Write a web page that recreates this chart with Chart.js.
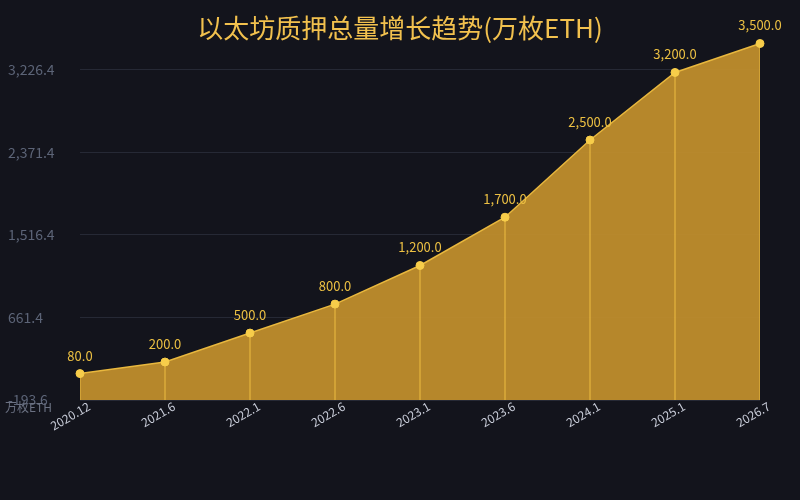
<!DOCTYPE html>
<html>
<head>
<meta charset="utf-8">
<script src="https://cdn.jsdelivr.net/npm/chart.js@4/dist/chart.umd.min.js"></script>
<style>
html,body{margin:0;padding:0;background:#13141c;}
#wrap{width:800px;height:500px;position:relative;}
</style>
</head>
<body>
<div id="wrap"><canvas id="c" width="800" height="500"></canvas></div>
<script>
const categories = ['2020.12','2021.6','2022.1','2022.6','2023.1','2023.6','2024.1','2025.1','2026.7'];
const stakedValues = [80, 200, 500, 800, 1200, 1700, 2500, 3200, 3500];
const yTickValues = [-193.6, 661.4, 1516.4, 2371.4, 3226.4];
const yMin = -193.6;
const yMax = 3500;
const titleText = '以太坊质押总量增长趋势(万枚ETH)';
const unitText = '万枚ETH';

const FONT = "'Noto Sans CJK SC', 'Noto Sans', sans-serif";
const fmt = v => v.toLocaleString('en-US', {minimumFractionDigits: 1, maximumFractionDigits: 1});

const extrasPlugin = {
  id: 'extras',
  afterDraw(chart) {
    const ctx = chart.ctx;
    ctx.save();
    ctx.fillStyle = '#f2c14e';
    ctx.font = `26px ${FONT}`;
    ctx.textAlign = 'center';
    ctx.textBaseline = 'middle';
    ctx.fillText(titleText, 400, 28);
    ctx.fillStyle = '#6b7182';
    ctx.font = `12px ${FONT}`;
    ctx.textAlign = 'left';
    ctx.fillText(unitText, 5, 407);
    const meta = chart.getDatasetMeta(0);
    ctx.fillStyle = '#ecc043';
    ctx.font = `13px ${FONT}`;
    ctx.textAlign = 'center';
    meta.data.forEach((pt, i) => {
      ctx.fillText(fmt(stakedValues[i]), pt.x, pt.y - 18);
    });
    ctx.restore();
  }
};

new Chart(document.getElementById('c'), {
  type: 'line',
  data: {
    labels: categories,
    datasets: [
      {
        type: 'line',
        data: stakedValues,
        order: 1,
        borderColor: '#e9b83e',
        borderWidth: 1.5,
        backgroundColor: 'rgba(192,142,45,0.94)',
        fill: 'start',
        tension: 0,
        pointRadius: 4,
        pointHoverRadius: 4,
        pointBackgroundColor: '#f7cd4a',
        pointBorderColor: '#f7cd4a',
        pointBorderWidth: 1,
        clip: false
      },
      {
        type: 'bar',
        data: stakedValues.map(v => [yMin, v]),
        order: 2,
        backgroundColor: 'rgba(245,196,70,0.55)',
        barThickness: 1,
        borderWidth: 0
      }
    ]
  },
  options: {
    responsive: false,
    animation: false,
    layout: { padding: { left: 8, right: 40, top: 43.5, bottom: 0 } },
    plugins: {
      legend: { display: false },
      title: { display: false },
      tooltip: { enabled: false },
      filler: { drawTime: 'beforeDatasetsDraw' }
    },
    scales: {
      x: {
        offset: false,
        grid: { display: false, offset: false },
        border: { display: false },
        ticks: {
          color: '#c8ccd8',
          font: { size: 12, family: FONT },
          maxRotation: 30,
          minRotation: 30,
          autoSkip: false,
          padding: -9,
          labelOffset: 9
        },
        afterFit(scale) { scale.height = 100; }
      },
      y: {
        min: yMin,
        max: yMax,
        afterBuildTicks(scale) { scale.ticks = yTickValues.map(v => ({ value: v })); },
        grid: { color: '#262935', lineWidth: 1, drawTicks: false },
        border: { display: false },
        ticks: {
          color: '#5c6477',
          font: { size: 14, family: FONT },
          crossAlign: 'far',
          padding: 0,
          callback: v => fmt(v)
        },
        afterFit(scale) { scale.width = 72; }
      }
    }
  },
  plugins: [extrasPlugin]
});
</script>
</body>
</html>
